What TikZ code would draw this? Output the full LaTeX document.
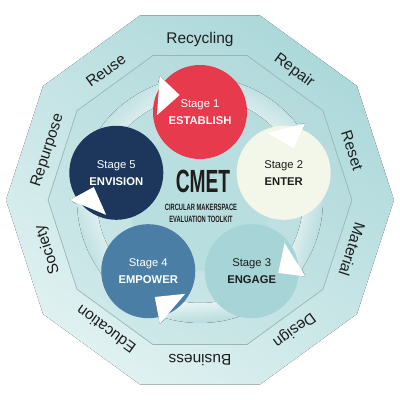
\documentclass[tikz,border=0pt]{standalone}
\usepackage{fontspec}
\setmainfont{Liberation Sans}

\definecolor{bandlight}{HTML}{E0F1F1}
\definecolor{banddark}{HTML}{ACD8DA}
\definecolor{innerdark}{HTML}{B3DADC}
\definecolor{innerlight}{HTML}{CDE8E9}
\definecolor{coreteal}{HTML}{B9DEDF}
\definecolor{flowtail}{HTML}{A9D5D7}
\definecolor{establishred}{HTML}{E73A4C}
\definecolor{entercream}{HTML}{F2F7EA}
\definecolor{engageteal}{HTML}{A7D4D6}
\definecolor{empowerblue}{HTML}{4A7EA5}
\definecolor{envisionnavy}{HTML}{1C365C}
\definecolor{inktext}{HTML}{1E1E1E}

\begin{document}
\begin{tikzpicture}[x=0.025cm, y=0.025cm,
    stage/.style={circle, minimum size=2.35cm, inner sep=0pt, align=center,
        font=\fontsize{8}{12}\selectfont},
    ring/.style={font=\fontsize{11}{13}\selectfont, text=inktext},
    flow/.style={left color=flowtail, middle color=white!80!flowtail, right color=white, shading angle=#1},
    flowhead/.style={fill=white}]
        \useasboundingbox (-200,-200) rectangle (200,200);
        \fill [white] (-200,-200) rectangle (200,200);
        % outer and inner decagon
        \fill [left color=banddark, right color=bandlight, shading angle=-35]
            (0:194) -- (36:194) -- (72:194) -- (108:194) -- (144:194) -- (180:194)
            -- (216:194) -- (252:194) -- (288:194) -- (324:194) -- cycle;
        \draw [left color=innerdark, right color=innerlight, shading angle=-35,
               draw=banddark!60!gray, line width=0.5pt]
            (0:152) -- (36:152) -- (72:152) -- (108:152) -- (144:152) -- (180:152)
            -- (216:152) -- (252:152) -- (288:152) -- (324:152) -- cycle;
        \fill [coreteal] (90:88) -- (18:88) -- (-54:88) -- (-126:88) -- (162:88) -- cycle;
        % labels round the band
        \node [ring, rotate=0] (recycling) at (90:160) {Recycling};
        \node [ring, rotate=-36] (repair) at (54:160) {Repair};
        \node [ring, rotate=-72] (reset) at (18:160) {Reset};
        \node [ring, rotate=-108] (material) at (-18:160) {Material};
        \node [ring, rotate=-144] (design) at (-54:160) {Design};
        \node [ring, rotate=180] (business) at (-90:160) {Business};
        \node [ring, rotate=144] (education) at (-126:160) {Education};
        \node [ring, rotate=108] (society) at (-162:160) {Society};
        \node [ring, rotate=72] (repurpose) at (162:160) {Repurpose};
        \node [ring, rotate=36] (reuse) at (126:160) {Reuse};
        % curved arrows between the stages
        \fill [flow=41] (152:123) arc [start angle=152, end angle=110, radius=123]
            -- (108:130) -- (101:107) -- (117:95) -- (115:103)
            arc [start angle=115, end angle=152, radius=103] -- cycle;
        \fill [flow=-31] (80:123) arc [start angle=80, end angle=38, radius=123]
            -- (36:130) -- (29:107) -- (45:95) -- (43:103)
            arc [start angle=43, end angle=80, radius=103] -- cycle;
        \fill [flow=-103] (8:123) arc [start angle=8, end angle=-34, radius=123]
            -- (-36:130) -- (-43:107) -- (-27:95) -- (-29:103)
            arc [start angle=-29, end angle=8, radius=103] -- cycle;
        \fill [flow=-175] (-64:123) arc [start angle=-64, end angle=-106, radius=123]
            -- (-108:130) -- (-115:107) -- (-99:95) -- (-101:103)
            arc [start angle=-101, end angle=-64, radius=103] -- cycle;
        \fill [flow=113] (-136:123) arc [start angle=-136, end angle=-178, radius=123]
            -- (-180:130) -- (-187:107) -- (-171:95) -- (-173:103)
            arc [start angle=-173, end angle=-136, radius=103] -- cycle;
        % the five stages
        \node [stage, fill=establishred, text=white] (establish) at (90:88) {Stage 1\\\textbf{ESTABLISH}};
        \node [stage, fill=entercream, text=inktext] (enter) at (18:88) {Stage 2\\\textbf{ENTER}};
        \node [stage, fill=engageteal, text=inktext] (engage) at (-54:88) {Stage 3\\\textbf{ENGAGE}};
        \node [stage, fill=empowerblue, text=white] (empower) at (-126:88) {Stage 4\\\textbf{EMPOWER}};
        \node [stage, fill=envisionnavy, text=white] (envision) at (162:88) {Stage 5\\\textbf{ENVISION}};
        % arrow heads over the stages
        \fill [flowhead] (108:130) -- (101:107) -- (117:95) -- cycle;
        \fill [flowhead] (36:130) -- (29:107) -- (45:95) -- cycle;
        \fill [flowhead] (-36:130) -- (-43:107) -- (-27:95) -- cycle;
        \fill [flowhead] (-108:130) -- (-115:107) -- (-99:95) -- cycle;
        \fill [flowhead] (-180:130) -- (-187:107) -- (-171:95) -- cycle;
        % title in the middle
        \node [font=\bfseries\fontsize{22.8}{24}\selectfont, text=inktext] (cmet) at (3,18.5) {\scalebox{0.6}[1]{CMET}};
        \node [font=\bfseries\fontsize{6.5}{8.5}\selectfont, text=inktext, align=center] (toolkit) at (1,-13)
            {\scalebox{0.63}[1]{CIRCULAR MAKERSPACE}\\\scalebox{0.63}[1]{EVALUATION TOOLKIT}};
    \end{tikzpicture}
\end{document}
